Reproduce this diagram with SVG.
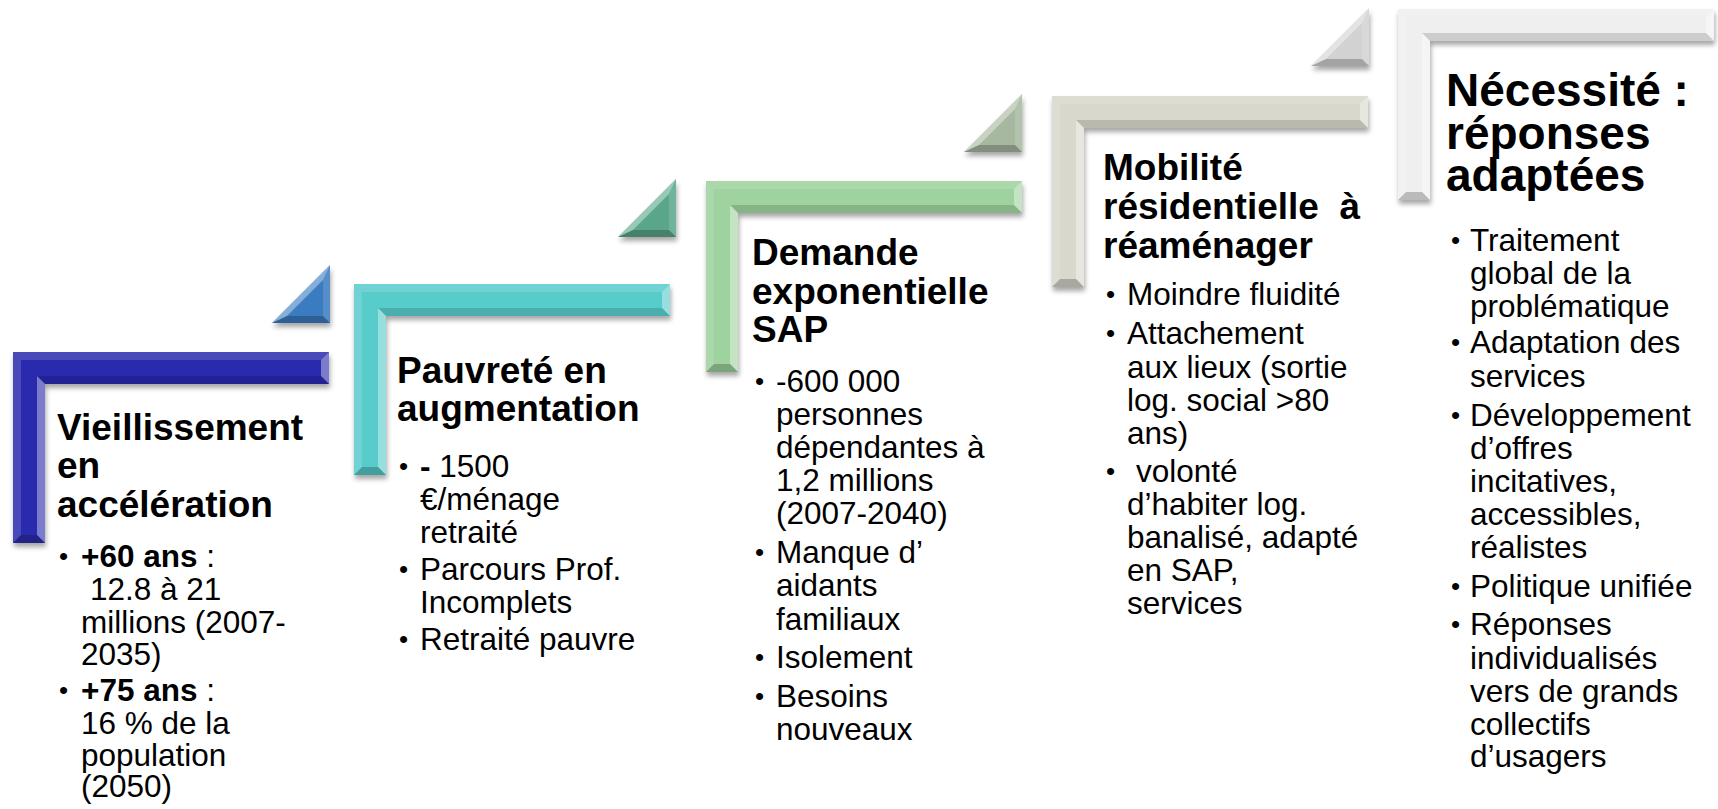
<svg xmlns="http://www.w3.org/2000/svg" xmlns:xlink="http://www.w3.org/1999/xlink" width="1718" height="809" viewBox="0 0 1718 809">
<style>
text{font-family:"Liberation Sans",Arial,sans-serif;fill:#000}
.t{font-size:37px;font-weight:bold}
.t5{font-size:46px;font-weight:bold}
.b{font-size:31.5px}
.d{font-size:26px}
.bo{font-weight:bold}
.hi{fill:#fff;fill-opacity:.38}
.hi2{fill:#fff;fill-opacity:.14}
.lo{fill:#000;fill-opacity:.14}
.lo2{fill:#000;fill-opacity:.22}
</style>
<defs>
<filter id="sh" x="-10%" y="-10%" width="130%" height="130%">
<feDropShadow dx="1" dy="4" stdDeviation="2.5" flood-color="#000" flood-opacity="0.35"/>
</filter>
<g id="L">
<path d="M0,0H316V32H32V191H0Z"/>
<polygon class="hi2" points="0,0 316,0 308,8 8,8"/>
<polygon class="hi" points="316,0 316,32 308,24 308,8"/>
<polygon class="lo" points="316,32 32,32 24,24 308,24"/>
<polygon class="hi" points="32,32 32,191 24,183 24,24"/>
<polygon class="lo2" points="32,191 0,191 8,183 24,183"/>
<polygon class="hi2" points="0,191 0,0 8,8 8,183"/>
</g>
<g id="T">
<polygon points="0,58 58,58 58,0"/>
<polygon class="hi" points="0,58 58,0 51,15 15,51"/>
<polygon class="hi2" points="58,0 58,58 51,51 51,15"/>
<polygon class="lo2" points="58,58 0,58 15,51 51,51"/>
</g>
</defs>

<g id="connectors">
<use xlink:href="#T" href="#T" transform="translate(272,265)" fill="#3a7cc0" filter="url(#sh)"/>
<use xlink:href="#T" href="#T" transform="translate(618,179)" fill="#5aa68a" filter="url(#sh)"/>
<use xlink:href="#T" href="#T" transform="translate(964,94)" fill="#a7b8a0" filter="url(#sh)"/>
<use xlink:href="#T" href="#T" transform="translate(1311,8)" fill="#d2d2d2" filter="url(#sh)"/>
</g>

<g id="node1">
<use xlink:href="#L" href="#L" transform="translate(13,352)" fill="#2a2aae" filter="url(#sh)"/>
<text class="t"><tspan x="57" y="440">Vieillissement</tspan><tspan x="57" y="478">en</tspan><tspan x="57" y="517">accélération</tspan></text>
<text class="d"><tspan x="59" y="565">•</tspan><tspan x="59" y="699">•</tspan></text>
<text class="b"><tspan x="81" y="567" class="bo">+60 ans</tspan><tspan> :</tspan><tspan x="90" y="600">12.8 à 21</tspan><tspan x="81" y="633">millions (2007-</tspan><tspan x="81" y="665">2035)</tspan><tspan x="81" y="701" class="bo">+75 ans</tspan><tspan> :</tspan><tspan x="81" y="734">16 % de la</tspan><tspan x="81" y="766">population</tspan><tspan x="81" y="797">(2050)</tspan></text>
</g>

<g id="node2">
<use xlink:href="#L" href="#L" transform="translate(354,284)" fill="#58cbcb" filter="url(#sh)"/>
<text class="t"><tspan x="397" y="383">Pauvreté en</tspan><tspan x="397" y="421">augmentation</tspan></text>
<text class="d"><tspan x="399" y="475">•</tspan><tspan x="399" y="578">•</tspan><tspan x="399" y="648">•</tspan></text>
<text class="b"><tspan x="420" y="477" class="bo">-</tspan><tspan> 1500</tspan><tspan x="420" y="510">€/ménage</tspan><tspan x="420" y="543">retraité</tspan><tspan x="420" y="580">Parcours Prof.</tspan><tspan x="420" y="613">Incomplets</tspan><tspan x="420" y="650">Retraité pauvre</tspan></text>
</g>

<g id="node3">
<use xlink:href="#L" href="#L" transform="translate(706,181)" fill="#9ed29e" filter="url(#sh)"/>
<text class="t"><tspan x="752" y="265">Demande</tspan><tspan x="752" y="304">exponentielle</tspan><tspan x="752" y="342">SAP</tspan></text>
<text class="d"><tspan x="755" y="390">•</tspan><tspan x="755" y="561">•</tspan><tspan x="755" y="666">•</tspan><tspan x="755" y="705">•</tspan></text>
<text class="b"><tspan x="776" y="392">-600 000</tspan><tspan x="776" y="425">personnes</tspan><tspan x="776" y="458">dépendantes à</tspan><tspan x="776" y="491">1,2 millions</tspan><tspan x="776" y="524">(2007-2040)</tspan><tspan x="776" y="563">Manque d’</tspan><tspan x="776" y="596">aidants</tspan><tspan x="776" y="630">familiaux</tspan><tspan x="776" y="668">Isolement</tspan><tspan x="776" y="707">Besoins</tspan><tspan x="776" y="740">nouveaux</tspan></text>
</g>

<g id="node4">
<use xlink:href="#L" href="#L" transform="translate(1052,96)" fill="#d8d8cd" filter="url(#sh)"/>
<text class="t"><tspan x="1103" y="180">Mobilité</tspan><tspan x="1103" y="219" xml:space="preserve">résidentielle  à</tspan><tspan x="1103" y="258">réaménager</tspan></text>
<text class="d"><tspan x="1106" y="303">•</tspan><tspan x="1106" y="342">•</tspan><tspan x="1106" y="480">•</tspan></text>
<text class="b"><tspan x="1127" y="305">Moindre fluidité</tspan><tspan x="1127" y="344">Attachement</tspan><tspan x="1127" y="378">aux lieux (sortie</tspan><tspan x="1127" y="411">log. social &gt;80</tspan><tspan x="1127" y="444">ans)</tspan><tspan x="1136" y="482">volonté</tspan><tspan x="1127" y="515">d’habiter log.</tspan><tspan x="1127" y="548">banalisé, adapté</tspan><tspan x="1127" y="581">en SAP,</tspan><tspan x="1127" y="614">services</tspan></text>
</g>

<g id="node5">
<use xlink:href="#L" href="#L" transform="translate(1398,9)" fill="#efefef" filter="url(#sh)"/>
<text class="t5"><tspan x="1446" y="106">Nécessité :</tspan><tspan x="1446" y="149">réponses</tspan><tspan x="1446" y="191">adaptées</tspan></text>
<text class="d"><tspan x="1451" y="249">•</tspan><tspan x="1451" y="351">•</tspan><tspan x="1451" y="424">•</tspan><tspan x="1451" y="595">•</tspan><tspan x="1451" y="633">•</tspan></text>
<text class="b"><tspan x="1470" y="251">Traitement</tspan><tspan x="1470" y="284">global de la</tspan><tspan x="1470" y="317">problématique</tspan><tspan x="1470" y="353">Adaptation des</tspan><tspan x="1470" y="387">services</tspan><tspan x="1470" y="426">Développement</tspan><tspan x="1470" y="459">d’offres</tspan><tspan x="1470" y="492">incitatives,</tspan><tspan x="1470" y="525">accessibles,</tspan><tspan x="1470" y="558">réalistes</tspan><tspan x="1470" y="597">Politique unifiée</tspan><tspan x="1470" y="635">Réponses</tspan><tspan x="1470" y="669">individualisés</tspan><tspan x="1470" y="702">vers de grands</tspan><tspan x="1470" y="735">collectifs</tspan><tspan x="1470" y="767">d’usagers</tspan></text>
</g>
</svg>
